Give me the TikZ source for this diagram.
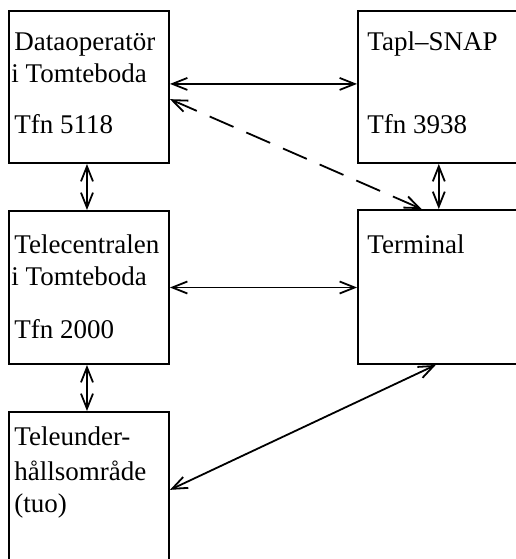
\documentclass[tikz,border=0pt]{standalone}
\usepackage{fontspec}
\setmainfont{Liberation Serif}
\usetikzlibrary{arrows.meta,calc}
\begin{document}
\begin{tikzpicture}[x=0.5pt,y=-0.5pt,
  box/.style={draw, line width=0.95pt, rectangle, inner sep=0pt},
  lbl/.style={anchor=base west, inner sep=0pt, font=\fontsize{13.5}{15}\selectfont},
  arr/.style={line width=0.9pt, {Straight Barb[length=7.5pt,width=6pt]}-{Straight Barb[length=7.5pt,width=6pt]}}]
\fill[white] (0,0) rectangle (516,559);
\clip (0,0) rectangle (516,559);
% boxes
\node[box, minimum width=80pt, minimum height=76pt] (A) at (89,87) {};
\node[box, minimum width=101pt, minimum height=76pt] (B) at (459,87) {};
\node[box, minimum width=80pt, minimum height=76.5pt] (C) at (89,287.5) {};
\node[box, minimum width=101pt, minimum height=77pt] (D) at (459,287) {};
\node[box, minimum width=80pt, minimum height=94pt] (E) at (89,506) {};
% labels
\node[lbl] (a1) at (14,50) {Dataoperatör};
\node[lbl] (a2) at (11,82) {i Tomteboda};
\node[lbl] (a3) at (14,133) {Tfn 5118};
\node[lbl] (b1) at (367,50) {Tapl–SNAP};
\node[lbl] (b2) at (367,133) {Tfn 3938};
\node[lbl] (c1) at (14,253) {Telecentralen};
\node[lbl] (c2) at (11,285) {i Tomteboda};
\node[lbl] (c3) at (14,338) {Tfn 2000};
\node[lbl] (d1) at (367,253) {Terminal};
\node[lbl] (e1) at (14,445) {Teleunder-};
\node[lbl] (e2) at (14,480) {hållsområde};
\node[lbl] (e3) at (14,512) {(tuo)};
% connectors
\draw[arr] ($(A.north east)!0.48!(A.south east)$) -- ($(B.north west)!0.48!(B.south west)$);
\draw[arr, dash pattern=on 13pt off 7pt] ($(A.north east)!0.579!(A.south east)$) -- ($(D.north west)!0.317!(D.north east)$);
\draw[arr] ($(B.south west)!0.401!(B.south east)$) -- ($(D.north west)!0.401!(D.north east)$);
\draw[arr] ($(A.south west)!0.4875!(A.south east)$) -- ($(C.north west)!0.4875!(C.north east)$);
\draw[arr] (C.east) -- (C.east -| D.west);
\draw[arr] ($(C.south west)!0.4875!(C.south east)$) -- ($(E.north west)!0.4875!(E.north east)$);
\draw[arr] ($(E.north east)!0.415!(E.south east)$) -- ($(D.south west)!0.386!(D.south east)$);
\end{tikzpicture}
\end{document}
